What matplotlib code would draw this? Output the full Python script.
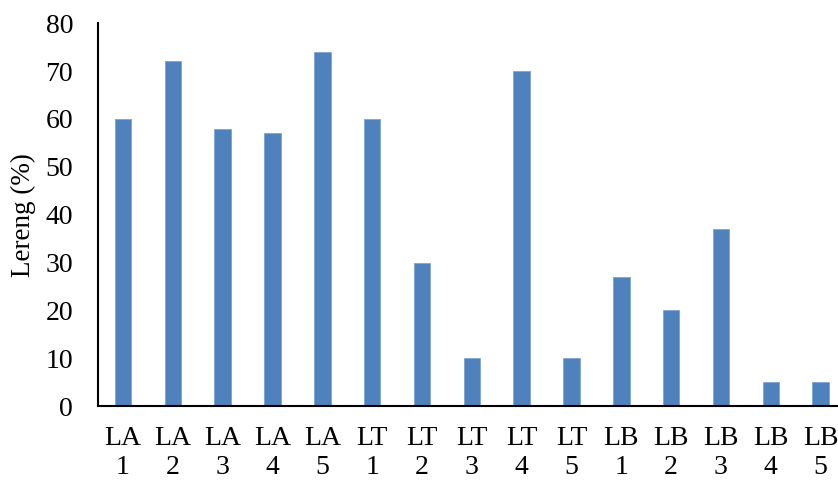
import matplotlib.pyplot as plt
import numpy as np

plt.rcParams['font.family'] = ['Liberation Serif', 'DejaVu Serif']

labels = ["LA\n1", "LA\n2", "LA\n3", "LA\n4", "LA\n5",
          "LT\n1", "LT\n2", "LT\n3", "LT\n4", "LT\n5",
          "LB\n1", "LB\n2", "LB\n3", "LB\n4", "LB\n5"]
lereng = [60, 72, 58, 57, 74, 60, 30, 10, 70, 10, 27, 20, 37, 5, 5]

fig = plt.figure(figsize=(8.38, 4.83), dpi=100)
ax = fig.add_axes([0.117, 0.159, 0.892, 0.793])

x = np.arange(len(labels))
ax.bar(x, lereng, width=0.33, color="#4F81BD", edgecolor="#7FA3D3", linewidth=0.6)

ax.set_xlim(-0.5, len(labels) - 0.5)
ax.set_ylim(0, 80)
ax.set_yticks(np.arange(0, 81, 10))
ax.set_xticks(x)
ax.set_xticklabels(labels, linespacing=1.25)
ax.tick_params(axis="both", length=0, labelsize=20)
ax.tick_params(axis="x", pad=14)
ax.tick_params(axis="y", pad=18)

ax.spines["top"].set_visible(False)
ax.spines["right"].set_visible(False)
ax.spines["left"].set_linewidth(1.5)
ax.spines["bottom"].set_linewidth(1.5)

ax.set_ylabel("Lereng (%)", fontsize=19.5, labelpad=7)

fig.savefig("out.png", dpi=100)
